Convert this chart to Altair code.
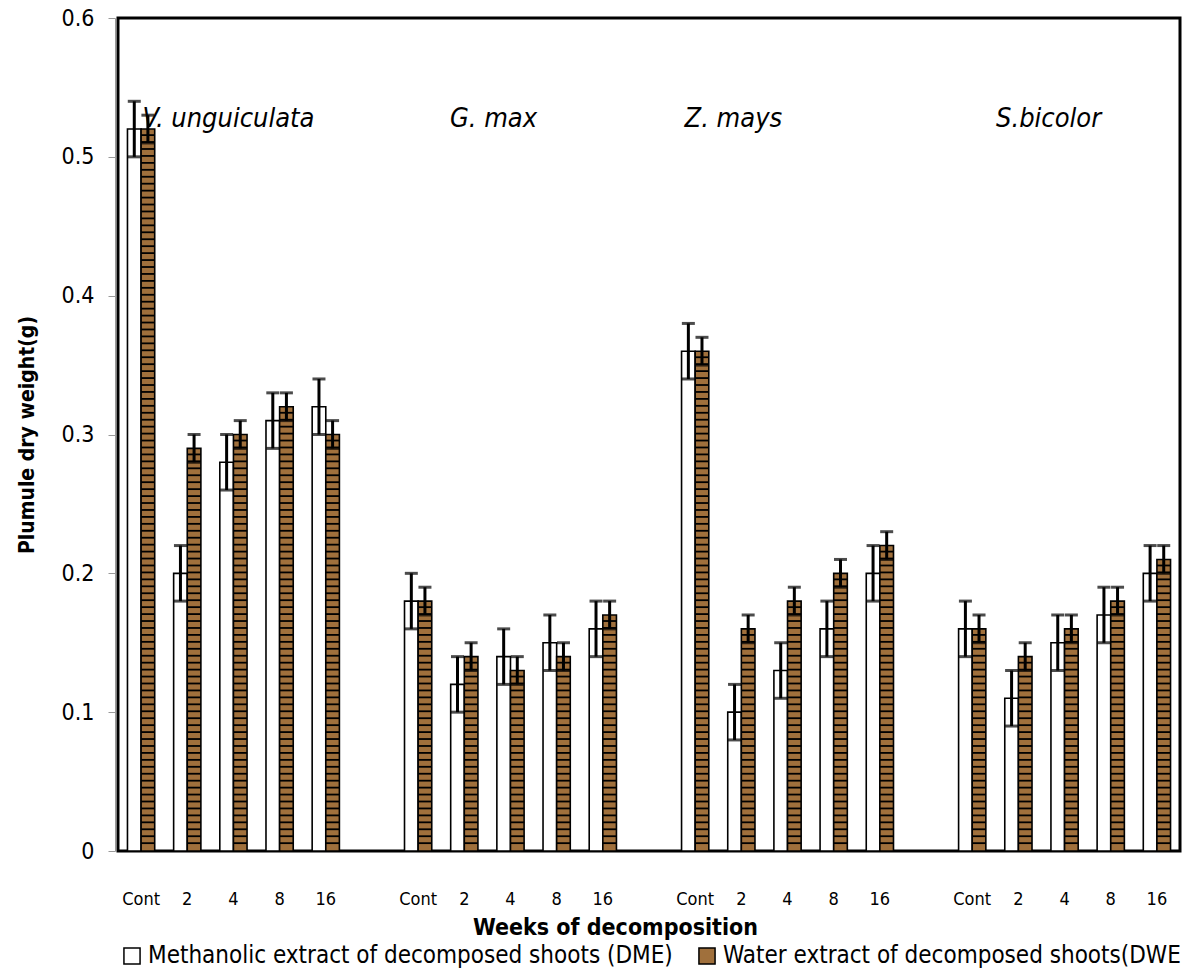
import altair as alt
import pandas as pd

FONT = "Liberation Sans Narrow, DejaVu Sans Condensed, sans-serif"

species = ["V. unguiculata", "G. max", "Z. mays", "S.bicolor"]
weeks = ["Cont", "2", "4", "8", "16"]
dme = [[0.52, 0.20, 0.28, 0.31, 0.32],
       [0.18, 0.12, 0.14, 0.15, 0.16],
       [0.36, 0.10, 0.13, 0.16, 0.20],
       [0.16, 0.11, 0.15, 0.17, 0.20]]
dwe = [[0.52, 0.29, 0.30, 0.32, 0.30],
       [0.18, 0.14, 0.13, 0.14, 0.17],
       [0.36, 0.16, 0.18, 0.20, 0.22],
       [0.16, 0.14, 0.16, 0.18, 0.21]]
dme_err = 0.02
dwe_err = 0.01
series = ["Methanolic extract of decomposed shoots (DME)",
          "Water extract of decomposed shoots(DWE"]
colors = ["white", "#A0703C"]

# species label anchors (slot) and horizontal nudges
label_slot = ["0|4", "1|4", "2|2", "3|4"]
label_dx = [-5, -17, -8, -16]

slots = []
for i in range(4):
    for w in weeks:
        slots.append(f"{i}|{w}")
    if i < 3:
        slots.append(f"g{i}|")

rows = []
for i in range(4):
    for j, w in enumerate(weeks):
        rows.append(dict(slot=f"{i}|{w}", series=series[0], v=dme[i][j],
                         lo=dme[i][j] - dme_err, hi=dme[i][j] + dme_err))
        rows.append(dict(slot=f"{i}|{w}", series=series[1], v=dwe[i][j],
                         lo=dwe[i][j] - dwe_err, hi=dwe[i][j] + dwe_err))
df = pd.DataFrame(rows)

# horizontal hatch stripes for the water-extract bars (decoration)
stripes = []
step = 0.005
for i in range(4):
    for j, w in enumerate(weeks):
        k = 1
        while k * step < dwe[i][j] - 0.001:
            stripes.append(dict(slot=f"{i}|{w}", series=series[1],
                                s=k * step, s2=k * step + 0.0013))
            k += 1
sdf = pd.DataFrame(stripes)

ldf = pd.DataFrame(dict(slot=label_slot, name=species, y=[0.527] * 4))

xscale = alt.Scale(domain=slots, paddingInner=0.41, paddingOuter=0.205)
xoff = alt.XOffset("series:N", scale=alt.Scale(domain=series, paddingInner=0),
                   sort=series)
yscale = alt.Scale(domain=[0, 0.6])

x_axis = alt.Axis(title="Weeks of decomposition", labelExpr="split(datum.label,'|')[1]",
                  labelAngle=0, ticks=False, domain=False, labelPadding=39,
                  labelFont=FONT, labelFontSize=18, labelColor="black",
                  titleFont=FONT, titleFontSize=23, titleFontWeight="bold",
                  titleColor="black", titleX=497, titleY=76, titleBaseline="middle")
y_axis = alt.Axis(title="Plumule dry weight(g)", values=[0, 0.1, 0.2, 0.3, 0.4, 0.5, 0.6],
                  labelExpr="datum.value == 0 ? '0' : format(datum.value, '.1f')",
                  grid=False, tickColor="#999999", tickSize=7, domainColor="#999999",
                  offset=3, labelFont=FONT, labelFontSize=23, labelColor="black",
                  labelPadding=14, titleFont=FONT, titleFontSize=21,
                  titleFontWeight="bold", titleColor="black", titlePadding=24)

base = alt.Chart(df)

bars = base.mark_bar(stroke="black", strokeWidth=1.6).encode(
    x=alt.X("slot:N", scale=xscale, axis=x_axis, sort=slots),
    xOffset=xoff,
    y=alt.Y("v:Q", scale=yscale, axis=y_axis),
    fill=alt.Fill("series:N", scale=alt.Scale(domain=series, range=colors),
                  legend=alt.Legend(title=None, orient="none", direction="horizontal",
                                    legendX=2, legendY=926, symbolType="square",
                                    symbolSize=260, symbolStrokeColor="black",
                                    symbolStrokeWidth=1.5, labelFont=FONT,
                                    labelFontSize=24, labelColor="black",
                                    columnPadding=22, labelLimit=700,
                                    symbolOffset=0)),
)

stripe_layer = alt.Chart(sdf).mark_bar(color="black").encode(
    x=alt.X("slot:N", scale=xscale, sort=slots),
    xOffset=xoff,
    y=alt.Y("s:Q", scale=yscale),
    y2="s2:Q",
)

rule = base.mark_rule(color="black", strokeWidth=3).encode(
    x=alt.X("slot:N", scale=xscale, sort=slots),
    xOffset=xoff,
    y=alt.Y("lo:Q", scale=yscale),
    y2="hi:Q",
)
cap_hi = base.mark_tick(color="black", thickness=3, size=13, orient="horizontal").encode(
    x=alt.X("slot:N", scale=xscale, sort=slots), xOffset=xoff,
    y=alt.Y("hi:Q", scale=yscale))
cap_lo = base.mark_tick(color="black", thickness=3, size=13, orient="horizontal").encode(
    x=alt.X("slot:N", scale=xscale, sort=slots), xOffset=xoff,
    y=alt.Y("lo:Q", scale=yscale))

label_layers = []
for i in range(4):
    label_layers.append(
        alt.Chart(ldf.iloc[[i]]).mark_text(font=FONT, fontSize=27, fontStyle="italic",
                                           color="black", baseline="middle",
                                           dx=int(label_dx[i])).encode(
            x=alt.X("slot:N", scale=xscale, sort=slots),
            y=alt.Y("y:Q", scale=yscale),
            text="name:N"))

chart = alt.layer(bars, stripe_layer, rule, cap_hi, cap_lo, *label_layers).properties(
    width=1062, height=833,
    autosize=alt.AutoSizeParams(type="none"),
    padding={"left": 118, "top": 18, "right": 5, "bottom": 126},
).configure_view(stroke="black", strokeWidth=3)

chart.save("out.html", embed_options={"renderer": "svg", "actions": False})
